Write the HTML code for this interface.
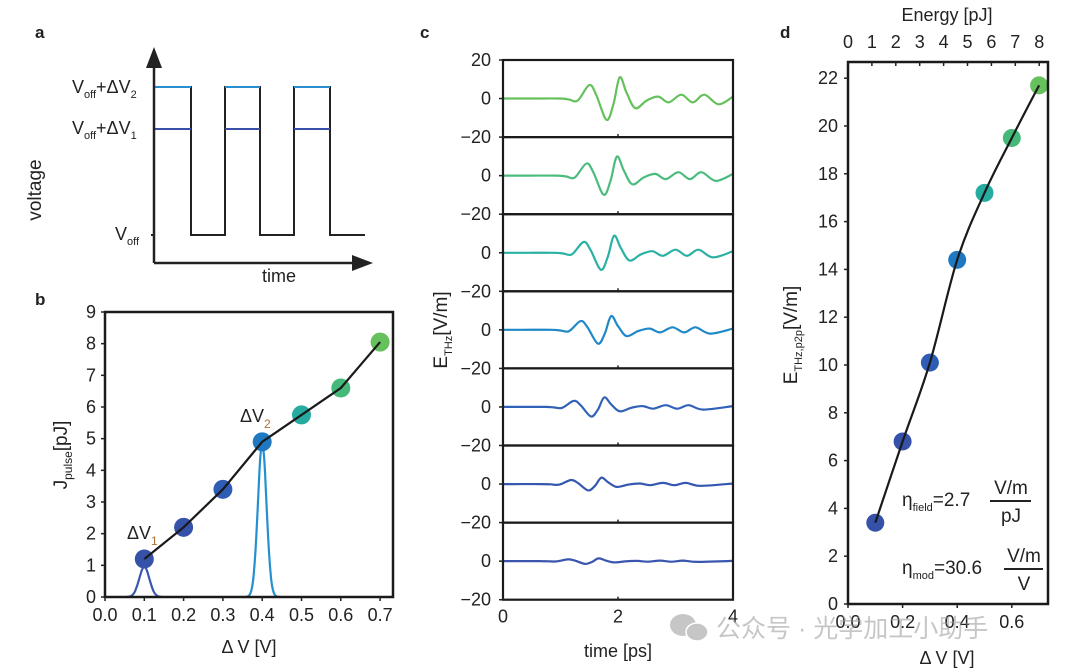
<!DOCTYPE html>
<html><head><meta charset="utf-8"><style>
body{margin:0;background:#fff;}
svg{display:block;font-family:"Liberation Sans","Noto Sans CJK SC",sans-serif;}
text{fill:#222;}
</style></head><body>
<svg id="fig" width="1080" height="671" viewBox="0 0 1080 671" xmlns="http://www.w3.org/2000/svg">
<g id="pa"></g>
<g id="pb"></g>
<g id="pc"></g>
<g id="pd"></g>
<g opacity="0.55">
<ellipse cx="683" cy="625" rx="13" ry="11" fill="#999"/><ellipse cx="697" cy="632" rx="11" ry="9" fill="#999" stroke="#fff" stroke-width="1.5"/>
<text x="716" y="637" font-size="25" style="fill:#999">公众号 · 光学加工小助手</text>
</g>
</svg>
<script>
// ---- data ----
const bVoltages=[0.1,0.2,0.3,0.4,0.5,0.6,0.7];
const bEnergy=[1.2,2.2,3.4,4.9,5.75,6.6,8.05];
const dField=[3.4,6.8,10.1,14.4,17.2,19.5,21.7];
const pointColors=['#3551a8','#3551a8','#2f5db5','#1f78c2','#27aaa0','#44b97a','#66c05c'];
const gaussCenters=[0.1,0.4];
const gaussPeaks=[0.95,4.85];
const gaussWidths=[0.013,0.011];
const gaussColors=['#3a58b0','#2590d0'];
const bYTicks=[0,1,2,3,4,5,6,7,8,9];
const bXTicks=['0.0','0.1','0.2','0.3','0.4','0.5','0.6','0.7'];
const cTimes=[0,0.5,1.0,1.15,1.3,1.5,1.62,1.8,1.92,2.03,2.15,2.3,2.5,2.7,2.88,3.1,3.3,3.5,3.75,4.0];
const cWave=[0,0,0,-0.5,-1,7,2,-11,-3,11,3,-5,-1,1,-2,2,-2,2,-3,1];
const cScales=[1,0.9,0.8,0.65,0.45,0.3,0.13];
const cShifts=[0,-0.05,-0.1,-0.15,-0.27,-0.32,-0.37];
const cColors=['#66c05c','#4bbc7e','#2bb0a4','#2188c8','#3162b8','#3557b0','#3a55ae'];
const cYTicks=['20','0','\u221220'];
const cXTicks=[0,2,4];
const dYTicks=[0,2,4,6,8,10,12,14,16,18,20,22];
const dXTicks=['0.0','0.2','0.4','0.6'];
const dETicks=[0,1,2,3,4,5,6,7,8];

const NS='http://www.w3.org/2000/svg';
function mk(parent,tag,attrs,txt){const e=document.createElementNS(NS,tag);for(const k in attrs)e.setAttribute(k,attrs[k]);if(txt!==undefined)e.textContent=txt;parent.appendChild(e);return e;}
function f(v){return (+v).toFixed(1);}
function smooth(pts){let d='M'+f(pts[0][0])+','+f(pts[0][1]);for(let i=0;i<pts.length-1;i++){const p0=pts[Math.max(0,i-1)],p1=pts[i],p2=pts[i+1],p3=pts[Math.min(pts.length-1,i+2)];const c1=[p1[0]+(p2[0]-p0[0])/6,p1[1]+(p2[1]-p0[1])/6],c2=[p2[0]-(p3[0]-p1[0])/6,p2[1]-(p3[1]-p1[1])/6];d+=' C'+f(c1[0])+','+f(c1[1])+' '+f(c2[0])+','+f(c2[1])+' '+f(p2[0])+','+f(p2[1]);}return d;}

// ---- panel a ----
const pa=document.getElementById('pa');
let e;
e=mk(pa,'text',{x:35,y:38,'font-size':17,'font-weight':'bold'},'a');
const yV2=87,yV1=129,yOff=235;
e=mk(pa,'path',{d:'M154,87 L191,87 L191,235 L225,235 L225,87 L260,87 L260,235 L294,235 L294,87 L330,87 L330,235 L365,235',fill:'none',stroke:'#222','stroke-width':2});
[[154,191],[225,260],[294,330]].forEach(s=>{
 e=mk(pa,'line',{x1:s[0],y1:yV2,x2:s[1],y2:yV2,stroke:'#2a8fd0','stroke-width':2});
 e=mk(pa,'line',{x1:s[0],y1:yV1,x2:s[1],y2:yV1,stroke:'#3a50a8','stroke-width':2});
});
e=mk(pa,'path',{d:'M154,263 L154,60 M154,263 L358,263',stroke:'#222','stroke-width':2.5,fill:'none'});
e=mk(pa,'path',{d:'M154,47 L146,68 L162,68 Z M373,263 L352,255 L352,271 Z',fill:'#222'});
e=mk(pa,'line',{x1:151,y1:yOff,x2:154,y2:yOff,stroke:'#222','stroke-width':2});
function vlab(x,y,sub){const t=mk(pa,'text',{x:x,y:y,'font-size':18});mk(t,'tspan',{},'V');mk(t,'tspan',{'font-size':11,dy:5},'off');if(sub){mk(t,'tspan',{dy:-5},'+ΔV');mk(t,'tspan',{'font-size':11,dy:5},sub);}return t;}
e=vlab(72,93,'2');
e=vlab(72,134,'1');
e=vlab(115,240,null);
e=mk(pa,'text',{x:262,y:282,'font-size':18},'time');
e=mk(pa,'text',{x:0,y:0,'font-size':19,transform:'translate(41,190) rotate(-90)','text-anchor':'middle'},'voltage');

// ---- panel b ----
const pb=document.getElementById('pb');
const bL=105,bR=393,bT=312,bB=597;
const bx=v=>bL+v/0.1*39.3, by=v=>bB-v*(bB-bT)/9;
e=mk(pb,'text',{x:35,y:305,'font-size':17,'font-weight':'bold'},'b');
gaussCenters.forEach((c,k)=>{const pts=[];for(let v=c-0.045;v<=c+0.0451;v+=0.002)pts.push(bx(v).toFixed(1)+','+by(gaussPeaks[k]*Math.exp(-((v-c)**2)/(2*gaussWidths[k]**2))).toFixed(1));
 e=mk(pb,'polyline',{points:pts.join(' '),fill:'none',stroke:gaussColors[k],'stroke-width':2.2});});
bVoltages.forEach((v,i)=>{e=mk(pb,'circle',{cx:bx(v),cy:by(bEnergy[i]),r:9.5,fill:pointColors[i]});});
e=mk(pb,'polyline',{points:bVoltages.map((v,i)=>bx(v)+','+by(bEnergy[i])).join(' '),fill:'none',stroke:'#1a1a1a','stroke-width':2.2});
e=mk(pb,'rect',{x:bL,y:bT,width:bR-bL,height:bB-bT,fill:'none',stroke:'#1a1a1a','stroke-width':2.5});
bYTicks.forEach(t=>{mk(pb,'line',{x1:bL-4,y1:by(t),x2:bL,y2:by(t),stroke:'#222','stroke-width':1.5});e=mk(pb,'text',{x:bL-9,y:by(t)+6,'font-size':18,'text-anchor':'end'},t);});
bXTicks.forEach((t,i)=>{const x=bx(+t);mk(pb,'line',{x1:x,y1:bB,x2:x,y2:bB+4,stroke:'#222','stroke-width':1.5});e=mk(pb,'text',{x:x,y:bB+24,'font-size':18,'text-anchor':'middle'},t);});
e=mk(pb,'text',{x:249,y:653,'font-size':18,'text-anchor':'middle'},'Δ V [V]');
e=mk(pb,'text',{x:0,y:0,'font-size':19,transform:'translate(67,455) rotate(-90)','text-anchor':'middle'});mk(e,'tspan',{},'J');mk(e,'tspan',{'font-size':12,dy:5},'pulse');mk(e,'tspan',{dy:-5},'[pJ]');
e=mk(pb,'text',{x:127,y:539,'font-size':18});mk(e,'tspan',{},'ΔV');mk(e,'tspan',{'font-size':12,dy:6,style:'fill:#b07030'},'1');
e=mk(pb,'text',{x:240,y:422,'font-size':18});mk(e,'tspan',{},'ΔV');mk(e,'tspan',{'font-size':12,dy:6,style:'fill:#b07030'},'2');

// ---- panel c ----
const pc=document.getElementById('pc');
const cL=503,cR=733,cT=60,cH=77.1;
const cx=t=>cL+t*(cR-cL)/4;
e=mk(pc,'text',{x:420,y:38,'font-size':17,'font-weight':'bold'},'c');
cScales.forEach((s,k)=>{const top=cT+k*cH, mid=top+cH/2, cy=v=>mid-v*cH/40;
 const pts=cTimes.map((t,i)=>{let tt=(i===0||i===cTimes.length-1)?t:t+cShifts[k];return [cx(tt),cy(cWave[i]*s)];});
 e=mk(pc,'path',{d:smooth(pts),fill:'none',stroke:cColors[k],'stroke-width':2.2});
 e=mk(pc,'rect',{x:cL,y:top,width:cR-cL,height:cH,fill:'none',stroke:'#1a1a1a','stroke-width':2.2});
 cYTicks.forEach((lab,j)=>{if(k>0&&j===0)return;const y=top+j*cH/2;mk(pc,'line',{x1:cL-4,y1:y,x2:cL,y2:y,stroke:'#222','stroke-width':1.5});e=mk(pc,'text',{x:cL-12,y:y+6,'font-size':18,'text-anchor':'end'},lab);});
 cXTicks.forEach(t=>{mk(pc,'line',{x1:cx(t),y1:top+cH,x2:cx(t),y2:top+cH-3,stroke:'#222','stroke-width':1.5});});
});
const cB=cT+7*cH;
cXTicks.forEach(t=>{e=mk(pc,'text',{x:cx(t),y:cB+23,'font-size':18,'text-anchor':'middle'},t);});
e=mk(pc,'text',{x:618,y:657,'font-size':18,'text-anchor':'middle'},'time [ps]');
e=mk(pc,'text',{x:0,y:0,'font-size':19,transform:'translate(447,330) rotate(-90)','text-anchor':'middle'});mk(e,'tspan',{},'E');mk(e,'tspan',{'font-size':11,dy:5},'THz');mk(e,'tspan',{dy:-5},'[V/m]');

// ---- panel d ----
const pd=document.getElementById('pd');
const dL=848,dR=1048,dT=62,dB=604;
const dx=v=>dL+v/0.1*27.3, dy=v=>dB-v*23.9, ex=v=>dL+v*23.9;
e=mk(pd,'text',{x:780,y:38,'font-size':17,'font-weight':'bold'},'d');
bVoltages.forEach((v,i)=>{e=mk(pd,'circle',{cx:dx(v),cy:dy(dField[i]),r:9,fill:pointColors[i]});});
e=mk(pd,'path',{d:smooth(bVoltages.map((v,i)=>[dx(v),dy(dField[i])])),fill:'none',stroke:'#1a1a1a','stroke-width':2.2});
e=mk(pd,'rect',{x:dL,y:dT,width:dR-dL,height:dB-dT,fill:'none',stroke:'#1a1a1a','stroke-width':2.5});
dYTicks.forEach(t=>{mk(pd,'line',{x1:dL-4,y1:dy(t),x2:dL,y2:dy(t),stroke:'#222','stroke-width':1.5});e=mk(pd,'text',{x:dL-10,y:dy(t)+6,'font-size':18,'text-anchor':'end'},t);});
dXTicks.forEach(t=>{const x=dx(+t);mk(pd,'line',{x1:x,y1:dB,x2:x,y2:dB+4,stroke:'#222','stroke-width':1.5});e=mk(pd,'text',{x:x,y:dB+24,'font-size':18,'text-anchor':'middle'},t);});
dETicks.forEach(t=>{const x=ex(t);mk(pd,'line',{x1:x,y1:dT,x2:x,y2:dT+4,stroke:'#222','stroke-width':1.5});e=mk(pd,'text',{x:x,y:dT-14,'font-size':18,'text-anchor':'middle'},t);});
e=mk(pd,'text',{x:947,y:21,'font-size':18,'text-anchor':'middle'},'Energy [pJ]');
e=mk(pd,'text',{x:947,y:664,'font-size':18,'text-anchor':'middle'},'Δ V [V]');
e=mk(pd,'text',{x:0,y:0,'font-size':19,transform:'translate(797,335) rotate(-90)','text-anchor':'middle'});mk(e,'tspan',{},'E');mk(e,'tspan',{'font-size':11,dy:5},'THz,p2p');mk(e,'tspan',{dy:-5},'[V/m]');
e=mk(pd,'text',{x:902,y:506,'font-size':19});mk(e,'tspan',{},'η');mk(e,'tspan',{'font-size':11,dy:5},'field');mk(e,'tspan',{dy:-5},'=2.7');
mk(pd,'text',{x:1011,y:494,'font-size':19,'text-anchor':'middle'},'V/m');mk(pd,'line',{x1:990,y1:501,x2:1031,y2:501,stroke:'#222','stroke-width':2});mk(pd,'text',{x:1011,y:522,'font-size':19,'text-anchor':'middle'},'pJ');
e=mk(pd,'text',{x:902,y:574,'font-size':19});mk(e,'tspan',{},'η');mk(e,'tspan',{'font-size':11,dy:5},'mod');mk(e,'tspan',{dy:-5},'=30.6');
mk(pd,'text',{x:1024,y:562,'font-size':19,'text-anchor':'middle'},'V/m');mk(pd,'line',{x1:1004,y1:569,x2:1043,y2:569,stroke:'#222','stroke-width':2});mk(pd,'text',{x:1024,y:590,'font-size':19,'text-anchor':'middle'},'V');
</script>
</body></html>
